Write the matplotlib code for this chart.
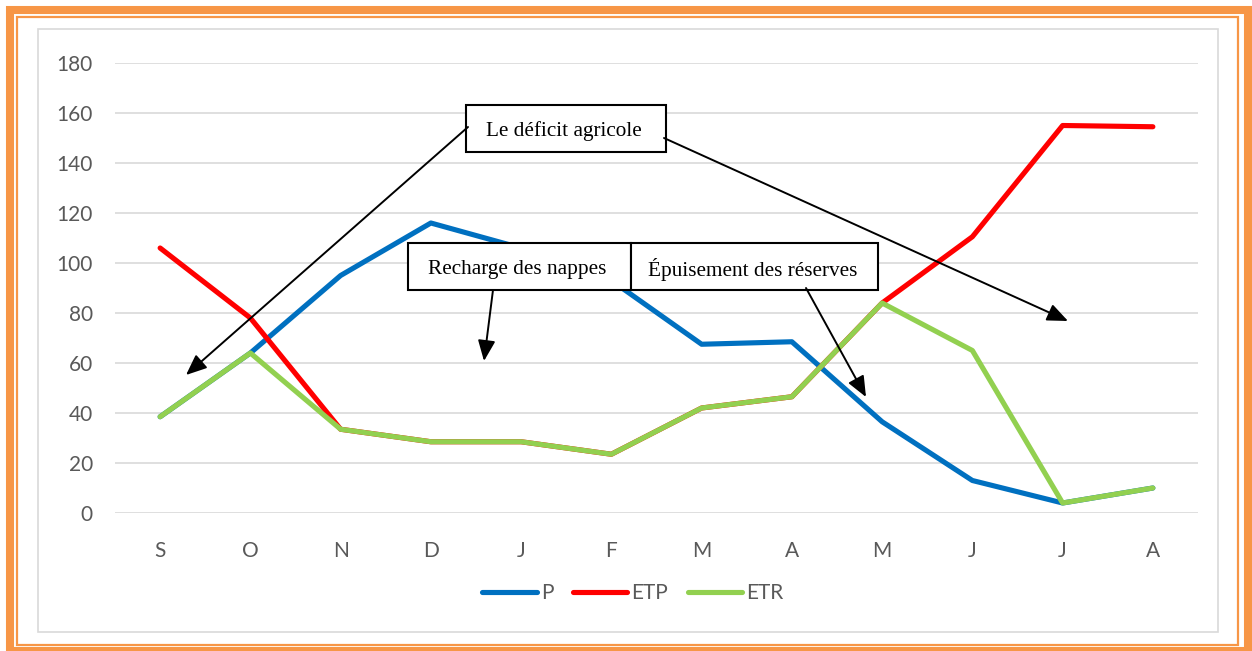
import matplotlib.pyplot as plt
from matplotlib.patches import Rectangle, FancyArrowPatch

months = ['S', 'O', 'N', 'D', 'J', 'F', 'M', 'A', 'M', 'J', 'J', 'A']
p_vals = [38.5, 64, 95, 116, 106, 93, 67.5, 68.5, 36.5, 13, 4, 10]
etp_vals = [106, 78, 33.5, 28.5, 28.5, 23.5, 42, 46.5, 84, 110.5, 155, 154.5]
etr_vals = [38.5, 64, 33.5, 28.5, 28.5, 23.5, 42, 46.5, 84, 65, 4, 10]

W, H = 1252, 651
fig = plt.figure(figsize=(W / 100, H / 100), dpi=100)


def px(x, y):
    """pixel position (from top-left) -> figure fraction"""
    return x / W, 1 - y / H


# frame: orange double border and grey chart area border
x0, y0 = px(10, 10)
x1, y1 = px(1248, 651)
fig.patches.append(Rectangle((x0, y1), x1 - x0, y0 - y1, transform=fig.transFigure,
                             fill=False, edgecolor='#F79646', linewidth=5.8))
x0, y0 = px(16.5, 17)
x1, y1 = px(1238, 645)
fig.patches.append(Rectangle((x0, y1), x1 - x0, y0 - y1, transform=fig.transFigure,
                             fill=False, edgecolor='#F79646', linewidth=1.6))
x0, y0 = px(38, 29)
x1, y1 = px(1218, 632)
fig.patches.append(Rectangle((x0, y1), x1 - x0, y0 - y1, transform=fig.transFigure,
                             fill=False, edgecolor='#D9D9D9', linewidth=1.2))

ax = fig.add_axes([115 / W, 1 - 513 / H, (1198 - 115) / W, (513 - 63) / H])
x = range(len(months))
style = dict(linewidth=3.7, solid_capstyle='round', solid_joinstyle='round')
ax.plot(x, p_vals, color='#0070C0', label='P', **style)
ax.plot(x, etp_vals, color='#FF0000', label='ETP', **style)
ax.plot(x, etr_vals, color='#92D050', label='ETR', **style)

ax.set_xlim(-0.5, len(months) - 0.5)
ax.set_ylim(0, 180)
ax.set_yticks(range(0, 181, 20))
ax.set_xticks(list(x))
ax.set_xticklabels(months)
ax.grid(axis='y', color='#D9D9D9', linewidth=1.2)
ax.set_axisbelow(True)
for s in ax.spines.values():
    s.set_visible(False)
ax.tick_params(length=0, labelsize=15, labelcolor='#595959')
ax.tick_params(axis='y', pad=16)
ax.tick_params(axis='x', pad=20)
for lbl in ax.get_xticklabels() + ax.get_yticklabels():
    lbl.set_fontfamily('Lato')

leg = fig.legend(loc='center', bbox_to_anchor=(633 / W, 1 - 593 / H), ncol=3,
                 frameon=False, prop={'family': 'Lato', 'size': 15},
                 handlelength=2.6, handletextpad=0.2, columnspacing=0.95)
for t in leg.get_texts():
    t.set_color('#595959')

# annotation boxes
boxes = [
    ('Le déficit agricole', 466, 105, 666, 152),
    ('Recharge des nappes', 408, 243, 631, 290),
    ('Épuisement des réserves', 631, 243, 878, 290),
]
for text, bx0, by0, bx1, by1 in boxes:
    fx0, fy0 = px(bx0, by0)
    fx1, fy1 = px(bx1, by1)
    fig.patches.append(Rectangle((fx0, fy1), fx1 - fx0, fy0 - fy1, transform=fig.transFigure,
                                 facecolor='white', edgecolor='black', linewidth=1.5, zorder=5))
    cx, cy = px((bx0 + bx1) / 2 - 2, (by0 + by1) / 2 + 3)
    fig.text(cx, cy, text, ha='center', va='center', family='Liberation Serif',
             fontsize=15.3, zorder=6)

arrows = [
    ((468, 127), (186, 375)),
    ((664, 138), (1068, 321)),
    ((493, 290), (484, 361)),
    ((806, 288), (866, 397)),
]
for start, end in arrows:
    arr = FancyArrowPatch(px(*start), px(*end), transform=fig.transFigure,
                          arrowstyle='-|>,head_length=0.9,head_width=0.38',
                          mutation_scale=14, color='black', linewidth=1.4,
                          shrinkA=0, shrinkB=0, zorder=7)
    fig.patches.append(arr)

fig.savefig('out.png', dpi=100)
